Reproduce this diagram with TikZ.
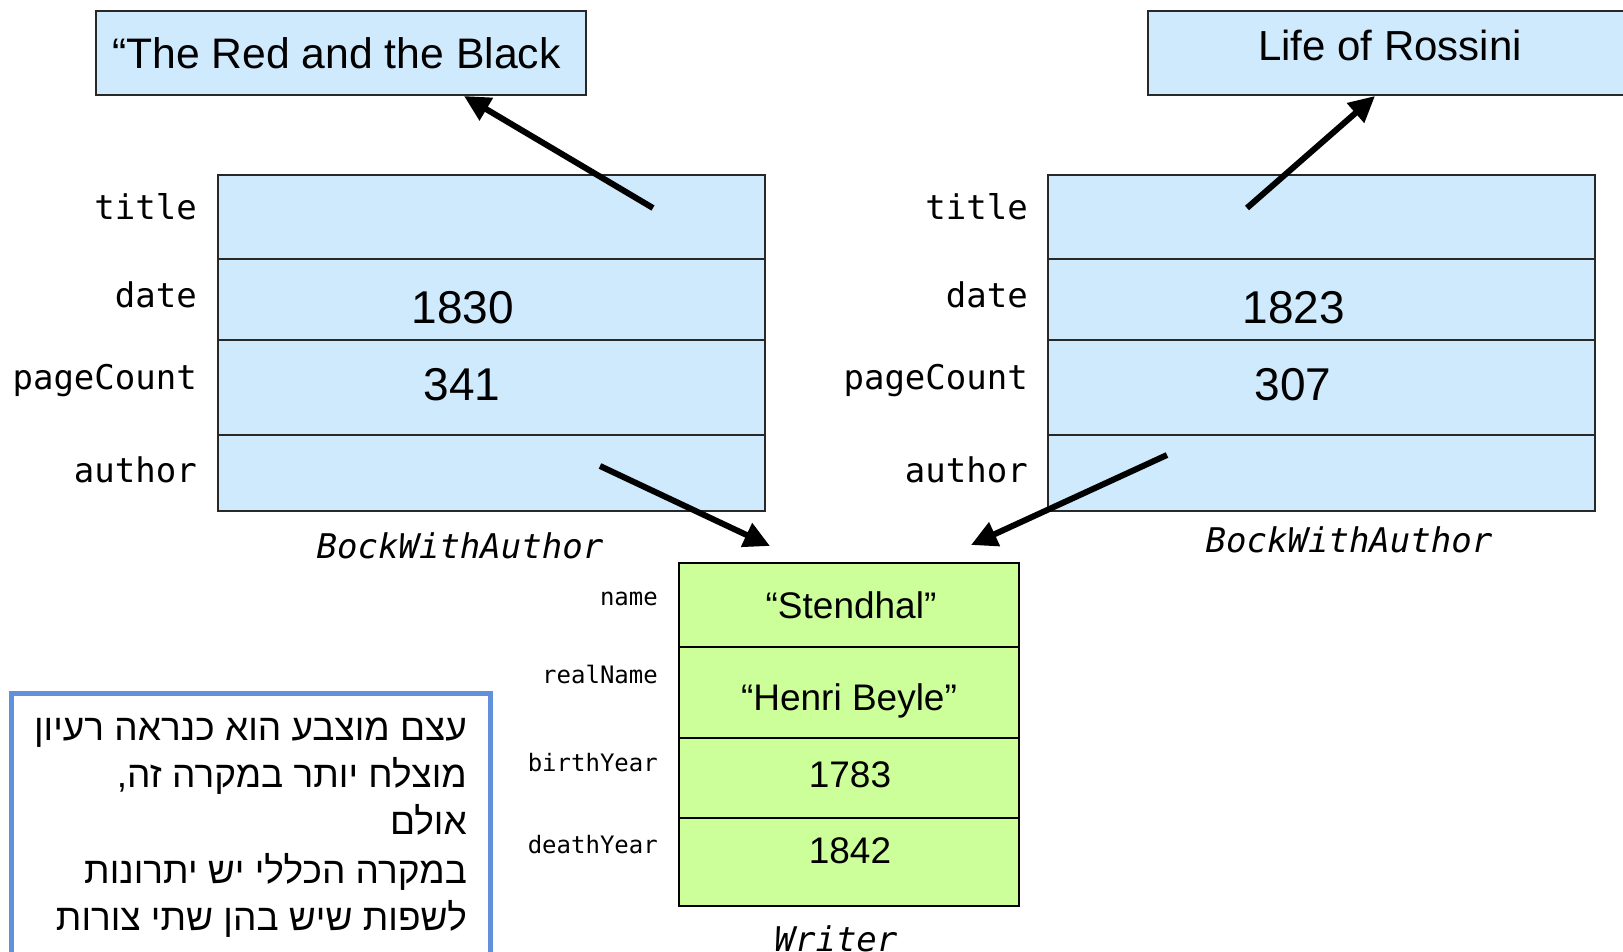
\documentclass[tikz,border=0pt]{standalone}
\usepackage{fontspec}
\setmainfont{Liberation Sans}
\newfontfamily\monof[ItalicFont={DejaVu Sans Mono Oblique}]{DejaVu Sans Mono}
\newfontfamily\hebf[Script=Hebrew]{Liberation Sans}
\TeXXeTstate=1
\usetikzlibrary{arrows.meta,calc}
\definecolor{objblue}{RGB}{207,234,253}
\definecolor{objgreen}{RGB}{204,255,153}
\definecolor{noteblue}{RGB}{98,145,220}
\definecolor{edgegray}{RGB}{40,40,40}

\begin{document}
\begin{tikzpicture}[x=1pt,y=-1pt,
  bookcell/.style={draw=edgegray, line width=1.8pt, fill=objblue, minimum width=547pt,
    inner sep=0pt, outer sep=0pt, anchor=north west},
  writercell/.style={draw=black, line width=2.2pt, fill=objgreen, minimum width=340pt,
    inner sep=0pt, outer sep=0pt, anchor=north west},
  strbox/.style={draw=edgegray, line width=1.8pt, fill=objblue, minimum height=84pt,
    inner sep=0pt, outer sep=0pt},
  field/.style={font=\monof\fontsize{34}{41}\selectfont, anchor=base east, inner sep=0pt},
  smallfield/.style={font=\monof\fontsize{24}{29}\selectfont, anchor=base east, inner sep=0pt},
  classname/.style={font=\monof\itshape\fontsize{34}{41}\selectfont, anchor=base, inner sep=0pt},
  bigval/.style={font=\fontsize{46}{55}\selectfont, anchor=base, inner sep=0pt},
  val/.style={font=\fontsize{37}{44}\selectfont, anchor=base, inner sep=0pt},
  hebline/.style={font=\hebf\fontsize{37}{47}\selectfont, anchor=base east, inner sep=0pt},
  ref/.style={line width=6pt, black, -{Triangle[length=26pt,width=25pt]}}
]
\clip (0,0) rectangle (1623,952);

% string objects
\node[strbox, minimum width=490pt, anchor=north west] (red) at (96,11)
  {\fontsize{42.7}{50}\selectfont\makebox[458pt][l]{“The Red and the Black}};
\node[strbox, minimum width=484pt, anchor=north west, text depth=14.7pt,
  font=\fontsize{42}{50}\selectfont] (ross) at (1148,11) {Life of Rossini};

% first book object
\node[bookcell, minimum height=84pt] (Ltitle)  at (218,175) {};
\node[bookcell, minimum height=81pt] (Ldate)   at (218,259) {};
\node[bookcell, minimum height=95pt] (Lpages)  at (218,340) {};
\node[bookcell, minimum height=76pt] (Lauthor) at (218,435) {};
\node[field] (LtitleL)  at (197,220) {title};
\node[field] (LdateL)   at (197,307) {date};
\node[field] (LpagesL)  at (197,389) {pageCount};
\node[field] (LauthorL) at (197,482) {author};
\node[bigval] (LdateV)  at (463,323) {1830};
\node[bigval] (LpagesV) at (462,400) {341};
\node[classname] (Lclass) at (460,558) {BockWithAuthor};

% second book object
\node[bookcell, minimum height=84pt] (Rtitle)  at (1048,175) {};
\node[bookcell, minimum height=81pt] (Rdate)   at (1048,259) {};
\node[bookcell, minimum height=95pt] (Rpages)  at (1048,340) {};
\node[bookcell, minimum height=76pt] (Rauthor) at (1048,435) {};
\node[field] (RtitleL)  at (1028,220) {title};
\node[field] (RdateL)   at (1028,307) {date};
\node[field] (RpagesL)  at (1028,389) {pageCount};
\node[field] (RauthorL) at (1028,482) {author};
\node[bigval] (RdateV)  at (1294,323) {1823};
\node[bigval] (RpagesV) at (1293,400) {307};
\node[classname] (Rclass) at (1349,552) {BockWithAuthor};

% writer object
\node[writercell, minimum height=84pt] (Wname)  at (679,563) {};
\node[writercell, minimum height=91pt] (Wreal)  at (679,647) {};
\node[writercell, minimum height=80pt] (Wbirth) at (679,738) {};
\node[writercell, minimum height=88pt] (Wdeath) at (679,818) {};
\node[smallfield] (WnameL)  at (658,605) {name};
\node[smallfield] (WrealL)  at (658,683) {realName};
\node[smallfield] (WbirthL) at (658,771) {birthYear};
\node[smallfield] (WdeathL) at (658,853) {deathYear};
\node[val] (WnameV)  at (851,618) {“Stendhal”};
\node[val] (WrealV)  at (849,710) {“Henri Beyle”};
\node[val] (WbirthV) at (850,787) {1783};
\node[val] (WdeathV) at (850,863) {1842};
\node[classname] (Wclass) at (836,951) {Writer};

% note
\node[draw=noteblue, line width=5pt, minimum width=478.5pt, minimum height=320pt,
  anchor=north west, inner sep=0pt] (note) at (9,690.5) {};
\node[hebline] (h1) at (467,740) {\beginR עצם מוצבע הוא כנראה רעיון\endR};
\node[hebline] (h2) at (467,787) {\beginR מוצלח יותר במקרה זה,\endR};
\node[hebline] (h3) at (467,834) {\beginR אולם\endR};
\node[hebline] (h4) at (467,883) {\beginR במקרה הכללי יש יתרונות\endR};
\node[hebline] (h5) at (467,930) {\beginR לשפות שיש בהן שתי צורות\endR};

% references
\coordinate (LtitleRef) at ($(Ltitle.north west)+(435,33)$);
\coordinate (RtitleRef) at ($(Rtitle.north west)+(199,33)$);
\coordinate (LauthorRef) at ($(Lauthor.north west)+(382,31)$);
\coordinate (RauthorRef) at ($(Rauthor.north west)+(119,20)$);
\coordinate (redIn)  at ($(red.south west)+(368,1)$);
\coordinate (rossIn) at ($(ross.south west)+(227,1)$);
\coordinate (wIn1) at ($(Wname.north west)+(91,-17)$);
\coordinate (wIn2) at ($(Wname.north west)+(292,-18)$);
\draw[ref] (LtitleRef) -- (redIn);
\draw[ref] (RtitleRef) -- (rossIn);
\draw[ref] (LauthorRef) -- (wIn1);
\draw[ref] (RauthorRef) -- (wIn2);
\end{tikzpicture}
\end{document}
